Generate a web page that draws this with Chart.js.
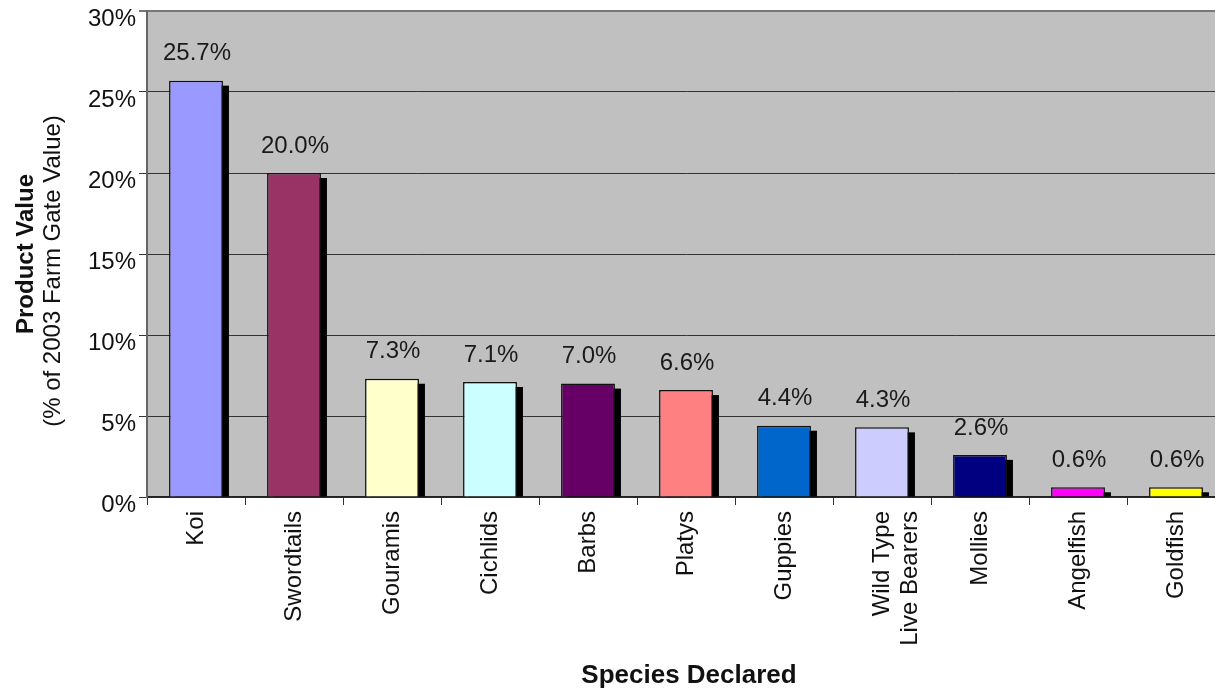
<!DOCTYPE html>
<html>
<head>
<meta charset="utf-8">
<script src="https://cdn.jsdelivr.net/npm/chart.js@4.4.1/dist/chart.umd.min.js"></script>
<style>
  html, body { margin: 0; padding: 0; background: #ffffff; overflow: hidden; }
  #wrap { position: relative; width: 1225px; height: 688px; }
</style>
</head>
<body>
<div id="wrap"><canvas id="chart"></canvas></div>
<script>
// Species and their share of 2003 farm gate value (%)
const species = ['Koi', 'Swordtails', 'Gouramis', 'Cichlids', 'Barbs', 'Platys', 'Guppies',
                 ['Wild Type', 'Live Bearers'], 'Mollies', 'Angelfish', 'Goldfish'];
const shares = [25.7, 20.0, 7.3, 7.1, 7.0, 6.6, 4.4, 4.3, 2.6, 0.6, 0.6];
const yTicks = [0, 5, 10, 15, 20, 25, 30];

const barColors = ['#9999FF', '#993366', '#FFFFCC', '#CCFFFF', '#660066', '#FF8080',
                   '#0066CC', '#CCCCFF', '#000080', '#FF00FF', '#FFFF00'];

const FONT = '"Liberation Sans", Arial, Helvetica, sans-serif';

// Grey plot-area fill
const plotBackground = {
  id: 'plotBackground',
  beforeDraw(chart) {
    const { ctx, chartArea } = chart;
    ctx.save();
    ctx.fillStyle = '#C0C0C0';
    ctx.fillRect(chartArea.left, chartArea.top, chartArea.right - chartArea.left, chartArea.bottom - chartArea.top);
    ctx.restore();
  }
};

// Drop shadow to the lower right of each bar
const barShadow = {
  id: 'barShadow',
  beforeDatasetsDraw(chart) {
    const { ctx, chartArea } = chart;
    ctx.save();
    ctx.beginPath();
    ctx.rect(chartArea.left, chartArea.top, chartArea.right - chartArea.left, chartArea.bottom - chartArea.top);
    ctx.clip();
    ctx.fillStyle = '#000000';
    chart.getDatasetMeta(0).data.forEach(bar => {
      const p = bar.getProps(['x', 'y', 'width', 'base'], true);
      const left = p.x - p.width / 2 + 6;
      const top = p.y + 5;
      ctx.fillRect(left, top, p.width, p.base - top);
    });
    ctx.restore();
  }
};

// Value labels above bars
const valueLabels = {
  id: 'valueLabels',
  afterDatasetsDraw(chart) {
    const { ctx } = chart;
    const ds = chart.data.datasets[0];
    ctx.save();
    ctx.font = '24px ' + FONT;
    ctx.fillStyle = '#1a1a1a';
    ctx.textAlign = 'center';
    ctx.textBaseline = 'middle';
    chart.getDatasetMeta(0).data.forEach((bar, i) => {
      const p = bar.getProps(['x', 'y'], true);
      ctx.fillText(ds.data[i].toFixed(1) + '%', p.x + 1, p.y - 27);
    });
    ctx.restore();
  }
};

// Axis titles (the y title mixes a bold and a regular line)
const axisTitles = {
  id: 'axisTitles',
  afterDraw(chart) {
    const { ctx, chartArea } = chart;
    const midY = (chartArea.top + chartArea.bottom) / 2;
    ctx.save();
    ctx.fillStyle = '#111111';
    ctx.textAlign = 'center';
    ctx.textBaseline = 'middle';
    ctx.save();
    ctx.translate(26, midY);
    ctx.rotate(-Math.PI / 2);
    ctx.font = 'bold 24px ' + FONT;
    ctx.fillText('Product Value', 0, 0);
    ctx.restore();
    ctx.save();
    ctx.translate(53, midY + 17);
    ctx.rotate(-Math.PI / 2);
    ctx.font = '24px ' + FONT;
    ctx.fillText('(% of 2003 Farm Gate Value)', 0, 0);
    ctx.restore();
    ctx.font = 'bold 26px ' + FONT;
    ctx.fillText('Species Declared', (chartArea.left + chartArea.right) / 2 + 3, 676);
    ctx.restore();
  }
};

new Chart(document.getElementById('chart'), {
  type: 'bar',
  data: {
    labels: species,
    datasets: [{
      data: shares,
      backgroundColor: barColors,
      borderColor: '#111111',
      borderWidth: 1.5,
      barPercentage: 0.55,
      categoryPercentage: 1.0
    }]
  },
  options: {
    responsive: true,
    maintainAspectRatio: false,
    animation: false,
    layout: { padding: { top: 11, left: 0, right: 0, bottom: 0 } },
    plugins: {
      legend: { display: false },
      tooltip: { enabled: false }
    },
    scales: {
      x: {
        offset: true,
        grid: {
          offset: true,
          drawOnChartArea: false,
          drawTicks: true,
          tickLength: 8,
          color: '#333333',
          lineWidth: 1
        },
        border: { color: '#222222', width: 1.5 },
        ticks: {
          autoSkip: false,
          minRotation: 90,
          maxRotation: 90,
          padding: 6,
          color: '#111111',
          font: { family: FONT, size: 24 }
        },
        afterFit(scale) {
          scale.height = 191;
          scale.paddingLeft = 0;
          scale.paddingRight = 0;
        }
      },
      y: {
        min: 0,
        max: 30,
        afterBuildTicks(scale) {
          scale.ticks = yTicks.map(v => ({ value: v }));
        },
        grid: {
          color: ctx => (ctx.tick && ctx.tick.value === 30) ? '#777777' : '#333333',
          lineWidth: ctx => (ctx.tick && ctx.tick.value === 30) ? 2 : 1,
          drawTicks: true,
          tickLength: 8
        },
        border: { color: '#666666', width: 2 },
        ticks: {
          padding: 3,
          labelOffset: 8,
          color: '#111111',
          font: { family: FONT, size: 24 },
          callback: v => v + '%'
        },
        afterFit(scale) {
          scale.width = 147;
          scale.paddingTop = 0;
          scale.paddingBottom = 0;
        }
      }
    }
  },
  plugins: [plotBackground, barShadow, valueLabels, axisTitles]
});
</script>
</body>
</html>
